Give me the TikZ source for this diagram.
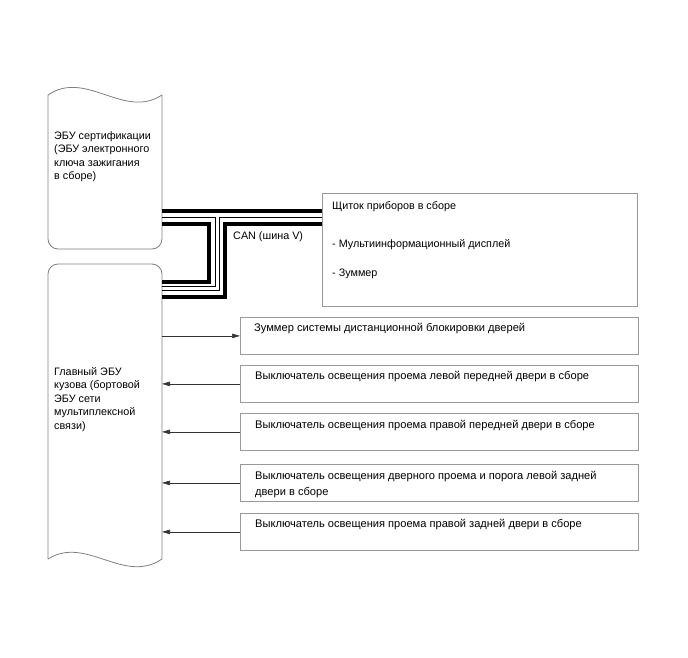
\documentclass[tikz,border=0pt]{standalone}
\usepackage{fontspec}
\setmainfont{Liberation Sans}
\usetikzlibrary{positioning, arrows.meta}

\begin{document}
\begin{tikzpicture}[
		x=1pt, y=-1pt,
		>={Triangle[length=8pt,width=4.5pt]},
		every node/.style={font=\fontsize{10.8}{13.5}\selectfont},
		ecubody/.style={minimum width=114pt, inner sep=0pt, outer sep=0pt},
		outline/.style={draw=black!50, line width=0.8pt},
		unit/.style={draw=black!40, line width=0.8pt, minimum width=398pt, minimum height=37pt, inner sep=0pt, anchor=north west},
		txt/.style={align=left, inner sep=0pt, anchor=north west},
		unittxt/.style={txt, font=\fontsize{11.1}{16}\selectfont},
		signal/.style={->, draw=black!80, line width=0.6pt},
		canthick/.style={draw=black, line width=4pt},
		canthin/.style={draw=black, line width=0.9pt}
		]
		\useasboundingbox (0,0) rectangle (688,658);
		
		% --- ECU BODIES ---
		\node[ecubody, minimum height=154pt] (cert) at (105,172) {};
		\node[ecubody, minimum height=295pt] (bcm) at (105,411.5) {};
		
		% Certification ECU outline (wavy top)
		\draw[outline] (cert.north west) .. controls +(38,-26) and +(-38,25) .. (cert.north east);
		\draw[outline, rounded corners=10pt] (cert.north east) -- (cert.south east) -- (cert.south west) -- (cert.north west);
		
		% Main body ECU outline (wavy bottom)
		\draw[outline, rounded corners=10pt] (bcm.south west) -- (bcm.north west) -- (bcm.north east) -- (bcm.south east);
		\draw[outline] (bcm.south west) .. controls +(38,-24) and +(-38,26) .. (bcm.south east);
		
		\node[txt] (certtxt) at (54,131) {ЭБУ сертификации\\(ЭБУ электронного\\ключа зажигания\\в сборе)};
		\node[txt] (bcmtxt) at (54,367) {Главный ЭБУ\\кузова (бортовой\\ЭБУ сети\\мультиплексной\\связи)};
		
		% --- RECEIVERS / SWITCHES ---
		\node[unit, minimum width=315pt, minimum height=113pt] (ipc) at (322,193) {};
		\node[unit] (buzz) at (240,317) {};
		\node[unit] (swLF) at (240,365) {};
		\node[unit] (swRF) at (240,413) {};
		\node[unit] (swLR) at (240,464) {};
		\node[unit] (swRR) at (240,513) {};
		
		\node[txt, below right=8pt and 10pt of ipc.north west] (ipctxt) {Щиток приборов в сборе\\[24.5pt]- Мультиинформационный дисплей\\[15.5pt]- Зуммер};
		\node[unittxt, below right=6pt and 14pt of buzz.north west] (buzztxt) {Зуммер системы дистанционной блокировки дверей};
		\node[unittxt, below right=6pt and 15pt of swLF.north west] (swLFtxt) {Выключатель освещения проема левой передней двери в сборе};
		\node[unittxt, below right=7pt and 15pt of swRF.north west] (swRFtxt) {Выключатель освещения проема правой передней двери в сборе};
		\node[unittxt, below right=7pt and 15pt of swLR.north west] (swLRtxt) {Выключатель освещения дверного проема и порога левой задней\\двери в сборе};
		\node[unittxt, below right=6pt and 15pt of swRR.north west] (swRRtxt) {Выключатель освещения проема правой задней двери в сборе};
		
		% --- CAN BUS (V) ---
		\draw[canthick] (cert.east |- 0,210.5) -- (ipc.west |- 0,210.5);
		\draw[canthin] (cert.east |- 0,217) -| (215,286) -- (bcm.east |- 0,286);
		\draw[canthick] (cert.east |- 0,224) -| (209,282) -- (bcm.east |- 0,282);
		\draw[canthin] (ipc.west |- 0,217) -| (219,290) -- (bcm.east |- 0,290);
		\draw[canthick] (ipc.west |- 0,224) -| (225,297) -- (bcm.east |- 0,297);
		\node[txt] (can) at (233,231) {CAN (шина V)};
		
		% --- SIGNAL LINES ---
		\draw[signal] (buzz.west -| bcm.east) -- (buzz.west);
		\foreach \sw in {swLF, swRF, swLR, swRR} {
			\draw[signal] (\sw.west) -- (\sw.west -| bcm.east);
		}
		
	\end{tikzpicture}
\end{document}
